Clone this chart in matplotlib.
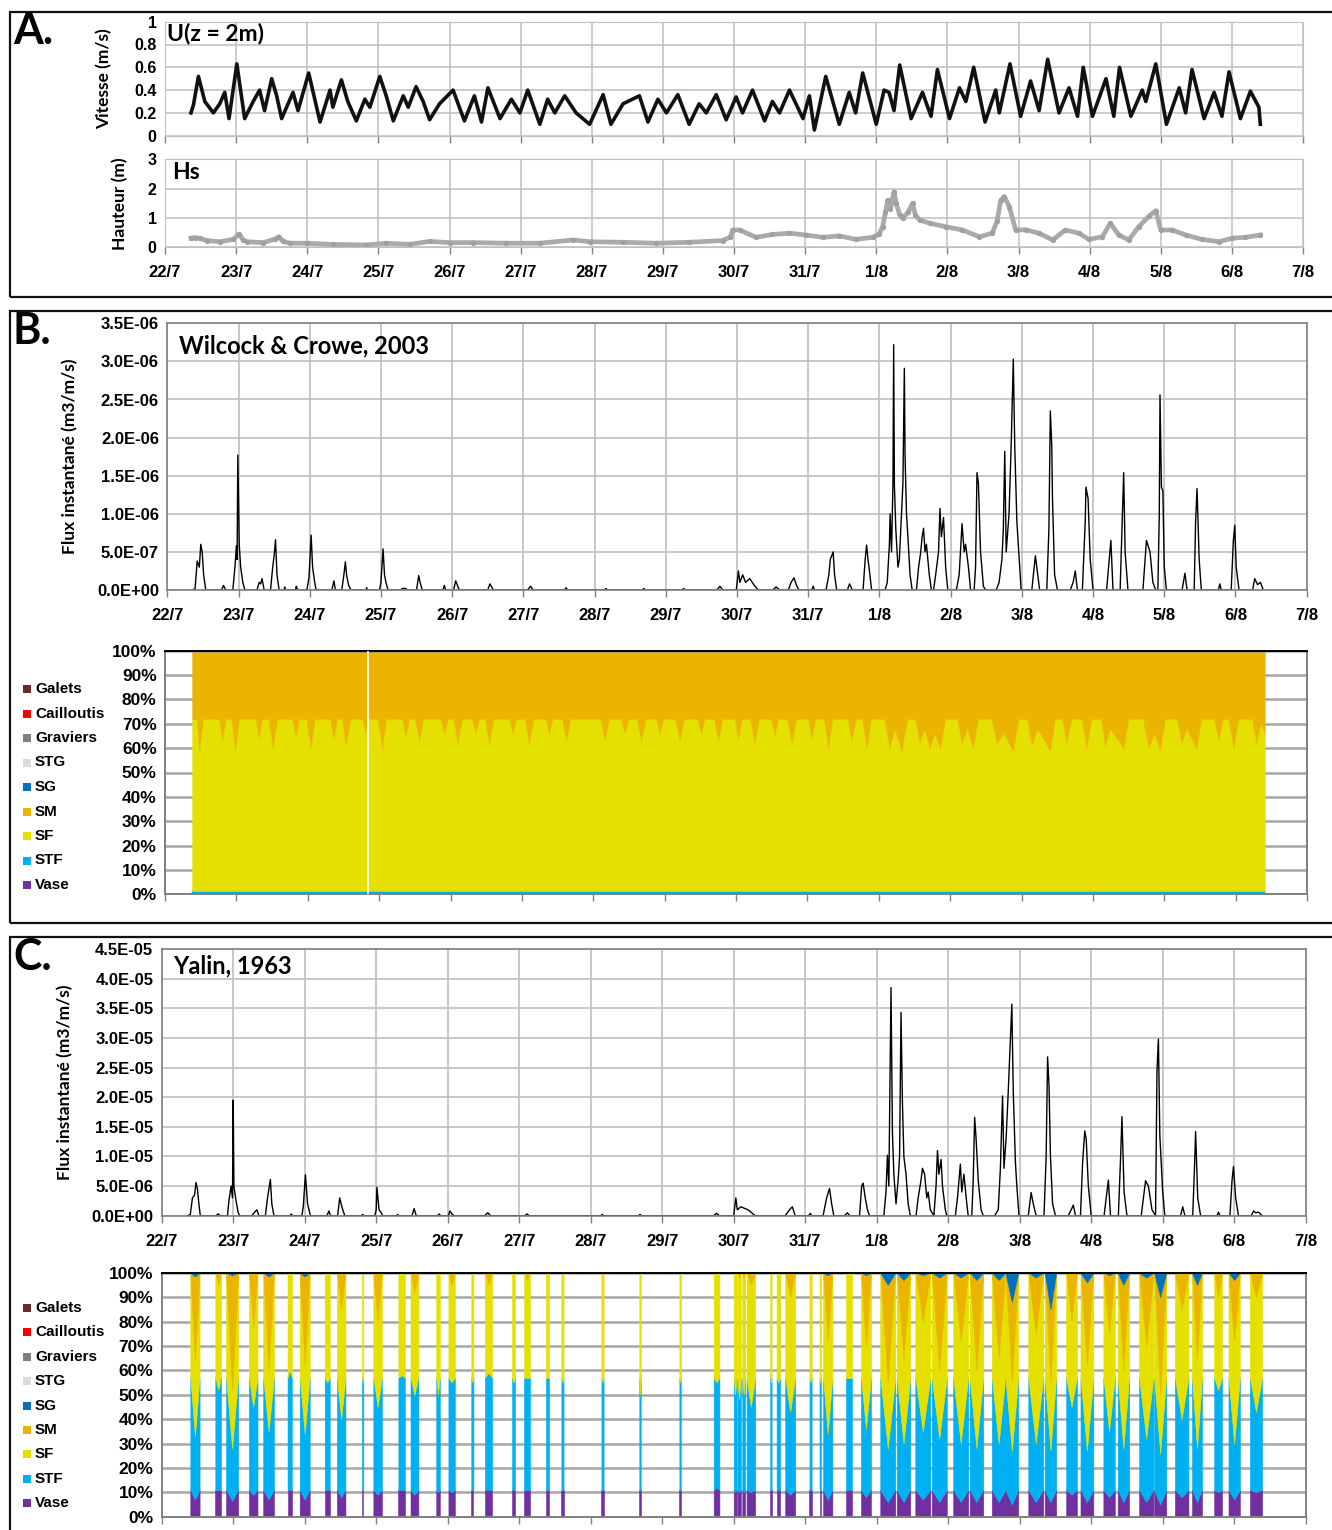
import matplotlib
matplotlib.use("Agg")
import matplotlib.pyplot as plt
from matplotlib.patches import Rectangle
import numpy as np

# ---------------------------------------------------------------- data
# time axis: days counted from 22/7 00:00
day_labels = ["22/7", "23/7", "24/7", "25/7", "26/7", "27/7", "28/7", "29/7",
              "30/7", "31/7", "1/8", "2/8", "3/8", "4/8", "5/8", "6/8", "7/8"]

# current speed at 2 m above bed (m/s)
u_pts = [(0.365, 0.2), (0.40, 0.27), (0.47, 0.52), (0.56, 0.3), (0.68, 0.2), (0.77, 0.28),
         (0.84, 0.38), (0.90, 0.15), (1.01, 0.63), (1.12, 0.15), (1.24, 0.3), (1.33, 0.4),
         (1.40, 0.22), (1.50, 0.5), (1.57, 0.35), (1.64, 0.15), (1.80, 0.38), (1.87, 0.22),
         (2.02, 0.55), (2.18, 0.12), (2.32, 0.4), (2.36, 0.25), (2.48, 0.49), (2.57, 0.3),
         (2.69, 0.13), (2.81, 0.32), (2.88, 0.25), (3.02, 0.52), (3.11, 0.35), (3.21, 0.13),
         (3.35, 0.35), (3.42, 0.25), (3.53, 0.43), (3.63, 0.3), (3.72, 0.14), (3.86, 0.28),
         (4.05, 0.4), (4.21, 0.13), (4.35, 0.35), (4.45, 0.12), (4.54, 0.42), (4.71, 0.15),
         (4.87, 0.32), (4.99, 0.2), (5.10, 0.4), (5.27, 0.1), (5.38, 0.32), (5.48, 0.2),
         (5.62, 0.35), (5.78, 0.2), (5.97, 0.1), (6.16, 0.36), (6.27, 0.1), (6.44, 0.28),
         (6.67, 0.35), (6.79, 0.12), (6.93, 0.32), (7.05, 0.2), (7.21, 0.36), (7.37, 0.1),
         (7.51, 0.28), (7.61, 0.2), (7.75, 0.36), (7.89, 0.14), (8.03, 0.34), (8.12, 0.2),
         (8.26, 0.4), (8.43, 0.13), (8.54, 0.3), (8.64, 0.2), (8.78, 0.4), (8.97, 0.15),
         (9.06, 0.35), (9.13, 0.05), (9.29, 0.52), (9.48, 0.1), (9.62, 0.38), (9.71, 0.2),
         (9.81, 0.55), (10.0, 0.1), (10.11, 0.4), (10.18, 0.38), (10.25, 0.22), (10.33, 0.62),
         (10.49, 0.15), (10.65, 0.38), (10.77, 0.17), (10.86, 0.58), (11.03, 0.15), (11.17, 0.42),
         (11.26, 0.3), (11.37, 0.6), (11.53, 0.12), (11.68, 0.4), (11.73, 0.2), (11.88, 0.63),
         (12.03, 0.17), (12.17, 0.48), (12.29, 0.22), (12.41, 0.67), (12.57, 0.2), (12.71, 0.42),
         (12.83, 0.17), (12.91, 0.6), (13.04, 0.17), (13.23, 0.5), (13.34, 0.17), (13.42, 0.6),
         (13.58, 0.17), (13.74, 0.4), (13.79, 0.3), (13.93, 0.63), (14.08, 0.1), (14.26, 0.42),
         (14.35, 0.2), (14.44, 0.58), (14.61, 0.15), (14.75, 0.38), (14.86, 0.17), (14.96, 0.56),
         (15.12, 0.15), (15.26, 0.39), (15.38, 0.25), (15.40, 0.1)]

# significant wave height (m)
hs_pts = [(0.365, 0.31), (0.42, 0.33), (0.49, 0.3), (0.59, 0.23), (0.77, 0.19), (0.96, 0.27),
          (1.04, 0.45), (1.10, 0.25), (1.15, 0.19), (1.38, 0.16), (1.55, 0.28), (1.60, 0.36),
          (1.66, 0.2), (1.76, 0.14), (1.99, 0.14), (2.36, 0.1), (2.83, 0.08), (3.11, 0.14),
          (3.44, 0.1), (3.72, 0.2), (4.0, 0.16), (4.33, 0.16), (4.8, 0.14), (5.27, 0.14),
          (5.74, 0.25), (5.97, 0.19), (6.44, 0.17), (6.91, 0.14), (7.37, 0.17), (7.84, 0.23),
          (7.95, 0.35), (7.98, 0.59), (8.08, 0.59), (8.31, 0.34), (8.54, 0.44), (8.78, 0.48),
          (9.01, 0.42), (9.25, 0.34), (9.48, 0.39), (9.71, 0.27), (9.95, 0.34), (10.04, 0.45),
          (10.09, 0.7), (10.13, 1.2), (10.16, 1.6), (10.2, 1.3), (10.25, 1.9), (10.28, 1.5),
          (10.33, 1.1), (10.37, 0.99), (10.45, 1.2), (10.51, 1.5), (10.55, 1.1), (10.61, 0.93),
          (10.75, 0.82), (10.98, 0.7), (11.21, 0.59), (11.45, 0.36), (11.63, 0.48), (11.7, 0.9),
          (11.75, 1.6), (11.8, 1.73), (11.87, 1.39), (11.96, 0.59), (12.1, 0.6), (12.29, 0.48),
          (12.48, 0.25), (12.66, 0.59), (12.85, 0.48), (12.99, 0.27), (13.18, 0.36), (13.29, 0.82),
          (13.41, 0.42), (13.55, 0.25), (13.69, 0.7), (13.83, 1.05), (13.93, 1.25), (14.0, 0.59),
          (14.16, 0.59), (14.35, 0.42), (14.58, 0.27), (14.82, 0.19), (15.0, 0.31), (15.19, 0.34),
          (15.4, 0.42)]

# instantaneous bedload flux, Wilcock & Crowe (2003), in 1e-6 m3/m/s
flux_wc = [(0.36, 0), (0.39, 0.02), (0.42, 0.38), (0.45, 0.3), (0.47, 0.6), (0.49, 0.5), (0.51, 0.2), (0.54, 0),
           (0.76, 0), (0.79, 0.06), (0.82, 0),
           (0.92, 0), (0.95, 0.3), (0.97, 0.58), (0.98, 0.4), (0.99, 1.77), (1.01, 0.6), (1.03, 0.3), (1.06, 0.1), (1.09, 0),
           (1.26, 0), (1.29, 0.1), (1.31, 0.08), (1.33, 0.15), (1.36, 0),
           (1.45, 0), (1.48, 0.3), (1.50, 0.45), (1.52, 0.66), (1.54, 0.2), (1.57, 0),
           (1.64, 0), (1.65, 0.04), (1.66, 0), (1.80, 0), (1.81, 0.05), (1.83, 0),
           (1.96, 0), (1.99, 0.17), (2.02, 0.72), (2.04, 0.3), (2.07, 0.1), (2.09, 0),
           (2.31, 0), (2.34, 0.12), (2.36, 0),
           (2.45, 0), (2.48, 0.2), (2.50, 0.37), (2.52, 0.18), (2.55, 0.05), (2.58, 0),
           (2.79, 0), (2.80, 0.03), (2.81, 0),
           (2.98, 0), (3.00, 0.1), (3.03, 0.54), (3.05, 0.2), (3.07, 0.1), (3.10, 0),
           (3.28, 0), (3.30, 0.02), (3.35, 0.02), (3.37, 0),
           (3.50, 0), (3.53, 0.19), (3.55, 0.1), (3.58, 0),
           (3.87, 0), (3.89, 0.06), (3.91, 0),
           (4.02, 0), (4.05, 0.12), (4.08, 0.05), (4.10, 0),
           (4.50, 0), (4.53, 0.08), (4.58, 0), (5.06, 0), (5.10, 0.05), (5.14, 0),
           (5.58, 0), (5.60, 0.03), (5.62, 0), (6.14, 0), (6.16, 0.02), (6.18, 0),
           (6.67, 0), (6.69, 0.02), (6.71, 0), (7.23, 0), (7.25, 0.02), (7.27, 0),
           (7.72, 0), (7.76, 0.05), (7.80, 0),
           (7.99, 0), (8.02, 0.25), (8.04, 0.1), (8.08, 0.2), (8.12, 0.1), (8.18, 0.15), (8.25, 0.05), (8.30, 0),
           (8.50, 0), (8.55, 0.04), (8.60, 0),
           (8.72, 0), (8.76, 0.1), (8.80, 0.16), (8.84, 0.05), (8.87, 0),
           (9.05, 0), (9.07, 0.05), (9.09, 0),
           (9.25, 0), (9.29, 0.2), (9.31, 0.4), (9.35, 0.5), (9.37, 0.2), (9.40, 0),
           (9.55, 0), (9.58, 0.08), (9.62, 0),
           (9.77, 0), (9.80, 0.4), (9.82, 0.59), (9.84, 0.4), (9.86, 0.25), (9.89, 0),
           (10.08, 0), (10.11, 0.1), (10.14, 0.6), (10.15, 1.0), (10.17, 0.5), (10.19, 1.4), (10.20, 3.22),
           (10.21, 1.38), (10.23, 0.8), (10.26, 0.3), (10.28, 0.4), (10.31, 1.0), (10.33, 1.4), (10.35, 2.91),
           (10.36, 1.76), (10.38, 1.0), (10.40, 0.7), (10.43, 0.2), (10.46, 0),
           (10.52, 0), (10.55, 0.3), (10.58, 0.5), (10.60, 0.7), (10.62, 0.81), (10.64, 0.5), (10.66, 0.6), (10.70, 0.2), (10.73, 0),
           (10.76, 0), (10.79, 0.2), (10.83, 0.5), (10.85, 1.07), (10.87, 0.7), (10.90, 0.95), (10.93, 0.3), (10.96, 0),
           (11.08, 0), (11.12, 0.2), (11.16, 0.87), (11.19, 0.5), (11.21, 0.6), (11.25, 0.3), (11.28, 0),
           (11.33, 0), (11.35, 0.3), (11.37, 1.54), (11.39, 1.4), (11.42, 0.5), (11.46, 0.05), (11.49, 0),
           (11.64, 0), (11.68, 0.1), (11.72, 0.4), (11.74, 0.8), (11.76, 1.82), (11.78, 0.5), (11.82, 1.0),
           (11.85, 1.9), (11.88, 3.03), (11.90, 1.9), (11.93, 0.9), (11.96, 0.45), (11.99, 0),
           (12.14, 0), (12.19, 0.45), (12.21, 0.3), (12.25, 0),
           (12.35, 0), (12.38, 0.8), (12.40, 2.35), (12.42, 1.9), (12.43, 1.2), (12.46, 0.2), (12.50, 0),
           (12.68, 0), (12.72, 0.1), (12.75, 0.25), (12.78, 0),
           (12.85, 0), (12.89, 0.9), (12.90, 1.35), (12.93, 1.2), (12.96, 0.4), (13.00, 0),
           (13.19, 0), (13.25, 0.65), (13.28, 0),
           (13.38, 0), (13.41, 0.95), (13.43, 1.54), (13.45, 0.5), (13.49, 0),
           (13.70, 0), (13.75, 0.65), (13.80, 0.5), (13.84, 0.1), (13.88, 0),
           (13.91, 0), (13.93, 1.0), (13.94, 2.56), (13.96, 1.35), (13.98, 1.3), (14.00, 0.3), (14.03, 0),
           (14.25, 0), (14.29, 0.22), (14.32, 0),
           (14.42, 0), (14.44, 0.9), (14.46, 1.33), (14.49, 0.4), (14.52, 0),
           (14.76, 0), (14.78, 0.08), (14.80, 0),
           (14.94, 0), (14.97, 0.65), (14.99, 0.85), (15.01, 0.3), (15.05, 0),
           (15.24, 0), (15.27, 0.15), (15.31, 0.07), (15.35, 0.1), (15.39, 0)]

# instantaneous bedload flux, Yalin (1963), in 1e-5 m3/m/s
flux_ya = [(0.36, 0), (0.40, 0.02), (0.43, 0.3), (0.46, 0.35), (0.48, 0.56), (0.50, 0.45), (0.52, 0.2), (0.54, 0),
           (0.76, 0), (0.79, 0.03), (0.82, 0),
           (0.92, 0), (0.94, 0.25), (0.97, 0.5), (0.99, 0.3), (1.00, 1.95), (1.01, 0.5), (1.04, 0.25), (1.07, 0.05), (1.09, 0),
           (1.26, 0), (1.30, 0.06), (1.33, 0.1), (1.36, 0),
           (1.45, 0), (1.48, 0.3), (1.50, 0.45), (1.52, 0.61), (1.54, 0.2), (1.57, 0),
           (1.80, 0), (1.81, 0.03), (1.83, 0),
           (1.96, 0), (1.98, 0.15), (2.01, 0.69), (2.04, 0.2), (2.08, 0),
           (2.31, 0), (2.34, 0.08), (2.36, 0),
           (2.46, 0), (2.49, 0.3), (2.52, 0.15), (2.56, 0),
           (2.79, 0), (2.81, 0.02), (2.83, 0),
           (2.98, 0), (3.00, 0.1), (3.01, 0.48), (3.04, 0.1), (3.07, 0.05), (3.09, 0),
           (3.28, 0), (3.30, 0.02), (3.32, 0),
           (3.50, 0), (3.53, 0.12), (3.56, 0),
           (3.86, 0), (3.88, 0.03), (3.90, 0),
           (4.01, 0), (4.03, 0.08), (4.06, 0.03), (4.09, 0),
           (4.52, 0), (4.56, 0.05), (4.60, 0), (5.08, 0), (5.11, 0.03), (5.14, 0),
           (6.14, 0), (6.16, 0.02), (6.18, 0), (6.67, 0), (6.69, 0.02), (6.71, 0),
           (7.72, 0), (7.76, 0.04), (7.80, 0),
           (8.00, 0), (8.03, 0.3), (8.05, 0.1), (8.10, 0.15), (8.20, 0.1), (8.30, 0),
           (8.72, 0), (8.78, 0.1), (8.82, 0.15), (8.86, 0),
           (9.05, 0), (9.07, 0.04), (9.09, 0),
           (9.25, 0), (9.30, 0.3), (9.34, 0.46), (9.37, 0.2), (9.40, 0),
           (9.55, 0), (9.59, 0.05), (9.62, 0),
           (9.76, 0), (9.79, 0.5), (9.81, 0.55), (9.84, 0.3), (9.87, 0.1), (9.90, 0),
           (10.10, 0), (10.13, 0.4), (10.15, 1.02), (10.17, 0.5), (10.20, 3.85), (10.22, 1.4), (10.24, 0.7),
           (10.27, 0.2), (10.30, 0.6), (10.32, 1.0), (10.34, 3.43), (10.36, 1.9), (10.38, 1.0), (10.41, 0.7),
           (10.44, 0.2), (10.47, 0),
           (10.55, 0), (10.58, 0.3), (10.62, 0.6), (10.64, 0.8), (10.67, 0.7), (10.70, 0.3), (10.72, 0.4), (10.75, 0.1),
           (10.80, 0), (10.83, 0.5), (10.85, 1.1), (10.87, 0.7), (10.90, 0.95), (10.92, 0.5), (10.96, 0.1), (10.98, 0),
           (11.10, 0), (11.13, 0.3), (11.17, 0.87), (11.19, 0.4), (11.22, 0.7), (11.26, 0.2), (11.28, 0),
           (11.33, 0), (11.35, 0.6), (11.37, 1.66), (11.39, 1.3), (11.42, 0.6), (11.46, 0.1), (11.49, 0),
           (11.65, 0), (11.70, 0.1), (11.73, 0.8), (11.76, 2.02), (11.78, 0.8), (11.81, 1.3), (11.84, 2.1),
           (11.89, 3.57), (11.91, 2.1), (11.94, 0.9), (11.96, 0.5), (11.99, 0),
           (12.12, 0), (12.16, 0.39), (12.19, 0.2), (12.23, 0),
           (12.34, 0), (12.37, 1.0), (12.39, 2.68), (12.41, 2.2), (12.43, 1.0), (12.46, 0.2), (12.50, 0),
           (12.68, 0), (12.72, 0.1), (12.75, 0.18), (12.78, 0),
           (12.85, 0), (12.88, 0.9), (12.91, 1.43), (12.93, 1.3), (12.96, 0.5), (13.00, 0),
           (13.18, 0), (13.24, 0.6), (13.27, 0),
           (13.38, 0), (13.41, 0.95), (13.43, 1.67), (13.46, 0.4), (13.50, 0),
           (13.70, 0), (13.74, 0.4), (13.76, 0.59), (13.80, 0.5), (13.85, 0.1),
           (13.90, 0), (13.92, 2.45), (13.94, 2.98), (13.96, 1.35), (14.00, 0.4), (14.03, 0),
           (14.25, 0), (14.28, 0.15), (14.31, 0),
           (14.42, 0), (14.45, 1.0), (14.46, 1.42), (14.49, 0.3), (14.53, 0),
           (14.76, 0), (14.78, 0.06), (14.80, 0),
           (14.94, 0), (14.97, 0.6), (14.99, 0.83), (15.02, 0.3), (15.06, 0),
           (15.24, 0), (15.27, 0.08), (15.30, 0.05), (15.34, 0.06), (15.39, 0)]

# size classes (legend order, top to bottom)
classes = ["Galets", "Cailloutis", "Graviers", "STG", "SG", "SM", "SF", "STF", "Vase"]
class_colors = ["#6B2C2C", "#FF0000", "#7F7F7F", "#D9D9D9", "#0070C0",
                "#EBB400", "#E5E000", "#00B0F0", "#7030A0"]

# Wilcock & Crowe composition: top of the SF layer (cumulative %, from the bed up)
wc_sf_top = [(0.38, 72), (0.44, 72), (0.48, 59), (0.53, 72), (0.76, 72), (0.80, 63), (0.85, 72),
             (0.93, 72), (0.98, 59), (1.04, 72), (1.27, 72), (1.31, 64), (1.36, 72), (1.45, 72),
             (1.51, 60), (1.57, 72), (1.78, 72), (1.83, 65), (1.88, 72), (1.98, 72), (2.04, 60),
             (2.10, 72), (2.31, 72), (2.36, 64), (2.41, 72), (2.48, 72), (2.53, 61), (2.60, 72),
             (2.76, 72), (2.81, 66), (2.86, 72), (2.98, 72), (3.04, 60), (3.10, 72), (3.32, 72),
             (3.37, 65), (3.42, 72), (3.50, 72), (3.56, 63), (3.62, 72), (3.86, 72), (3.91, 66),
             (3.96, 72), (4.04, 72), (4.10, 62), (4.16, 72), (4.30, 72), (4.35, 66), (4.40, 72),
             (4.48, 72), (4.54, 62), (4.60, 72), (4.82, 72), (4.87, 66), (4.92, 72), (5.04, 72),
             (5.10, 62), (5.16, 72), (5.33, 72), (5.38, 66), (5.43, 72), (5.56, 72), (5.62, 63),
             (5.68, 72), (6.10, 72), (6.16, 63), (6.22, 72), (6.39, 72), (6.44, 66), (6.49, 72),
             (6.61, 72), (6.67, 63), (6.73, 72), (6.88, 72), (6.93, 66), (6.98, 72), (7.15, 72),
             (7.21, 63), (7.27, 72), (7.46, 72), (7.51, 66), (7.56, 72), (7.69, 72), (7.75, 63),
             (7.81, 72), (7.98, 72), (8.03, 64), (8.08, 72), (8.20, 72), (8.26, 62), (8.32, 72),
             (8.49, 72), (8.54, 65), (8.59, 72), (8.72, 72), (8.78, 62), (8.84, 72), (9.01, 72),
             (9.06, 64), (9.11, 72), (9.23, 72), (9.29, 60), (9.35, 72), (9.56, 72), (9.62, 63),
             (9.68, 72), (9.77, 72), (9.83, 60), (9.89, 72), (10.08, 72), (10.15, 60), (10.22, 68),
             (10.32, 59), (10.40, 72), (10.51, 72), (10.57, 62), (10.64, 68), (10.71, 60), (10.78, 66),
             (10.86, 60), (10.93, 72), (11.10, 72), (11.16, 62), (11.24, 68), (11.32, 60), (11.39, 72),
             (11.58, 72), (11.65, 62), (11.75, 66), (11.88, 59), (11.96, 72), (12.08, 72), (12.14, 61),
             (12.22, 68), (12.40, 59), (12.47, 72), (12.57, 72), (12.63, 62), (12.70, 72), (12.84, 72),
             (12.91, 60), (12.98, 72), (13.11, 72), (13.17, 61), (13.24, 68), (13.43, 60), (13.50, 72),
             (13.70, 72), (13.78, 60), (13.86, 66), (13.94, 59), (14.01, 72), (14.18, 72), (14.24, 62),
             (14.31, 68), (14.45, 60), (14.52, 72), (14.70, 72), (14.76, 63), (14.82, 72), (14.90, 72),
             (14.97, 60), (15.04, 72), (15.23, 72), (15.29, 62), (15.35, 70), (15.41, 66)]
wc_vase_top = 0.3    # %
wc_stf_top = 1.3     # %
wc_sm_top = 99.4     # %
wc_gaps = [2.85]     # missing record

# Yalin composition: one entry per transport event
# (start, end, Vase top, STF top, SF top, SM top) at the event centre, cumulative %
ya_events = [(0.40, 0.53, 7, 33, 64, 98.5), (0.75, 0.83, 11, 52, 95, 100), (0.90, 1.07, 6.5, 28, 52, 99),
             (1.22, 1.34, 9, 45, 78, 100), (1.42, 1.57, 7, 35, 60, 98.5), (1.76, 1.82, 11, 60, 100, 100),
             (1.93, 2.07, 7, 34, 62, 98.5), (2.28, 2.35, 11, 55, 100, 100), (2.45, 2.57, 8, 40, 85, 100),
             (2.80, 2.82, 11, 55, 100, 100), (2.96, 3.08, 9, 45, 80, 100), (3.31, 3.40, 11, 58, 100, 100),
             (3.48, 3.59, 9, 50, 92, 100), (3.84, 3.89, 10, 50, 100, 100), (4.01, 4.10, 10, 55, 95, 100),
             (4.33, 4.36, 11, 55, 100, 100), (4.52, 4.62, 11, 59, 95, 100), (4.90, 4.94, 11, 55, 100, 100),
             (5.07, 5.15, 11, 57, 97, 100), (5.37, 5.41, 11, 57, 100, 100), (5.59, 5.62, 11, 55, 100, 100),
             (6.15, 6.18, 11, 55, 100, 100), (6.68, 6.70, 11, 50, 100, 100), (7.24, 7.26, 11, 55, 100, 100),
             (7.72, 7.80, 12, 55, 100, 100), (8.00, 8.04, 10, 50, 100, 100), (8.05, 8.10, 10, 48, 98, 100),
             (8.12, 8.16, 10, 50, 98, 100), (8.18, 8.30, 10, 45, 95, 100), (8.51, 8.53, 11, 55, 100, 100),
             (8.60, 8.65, 11, 55, 100, 100), (8.72, 8.86, 9, 43, 90, 100), (9.06, 9.09, 11, 55, 100, 100),
             (9.20, 9.22, 11, 55, 100, 100), (9.25, 9.38, 7, 34, 72, 99), (9.57, 9.66, 11, 57, 100, 100),
             (9.78, 9.92, 8, 36, 70, 99), (10.05, 10.26, 6, 28, 55, 95), (10.28, 10.47, 6, 30, 65, 97),
             (10.54, 10.75, 7, 35, 80, 99), (10.77, 10.98, 6, 32, 60, 98), (11.07, 11.28, 6, 30, 72, 98),
             (11.30, 11.49, 6, 28, 60, 97), (11.61, 11.80, 6, 30, 65, 97), (11.80, 11.98, 5, 27, 55, 88),
             (12.12, 12.33, 6, 30, 75, 98), (12.35, 12.51, 6, 27, 55, 85), (12.65, 12.80, 9, 45, 80, 100),
             (12.85, 13.03, 6, 27, 62, 96), (13.17, 13.33, 8, 35, 75, 99), (13.37, 13.53, 6, 28, 60, 95),
             (13.67, 13.87, 6, 32, 70, 98), (13.88, 14.05, 5, 26, 50, 90), (14.17, 14.36, 8, 40, 85, 100),
             (14.41, 14.55, 6, 28, 65, 95), (14.72, 14.83, 10, 52, 90, 100), (14.92, 15.08, 7, 30, 72, 97),
             (15.22, 15.39, 10, 43, 90, 100)]
# composition at the start / end of each event (Vase, STF, SF, SM tops, %)
ya_edge = [11, 57, 100, 100]

# ---------------------------------------------------------------- style
W, H = 1332, 1530
TICK_FONT = "Liberation Sans"
TITLE_FONT = "Lato"
GRID = "#BFBFBF"
COL = dict(zip(classes, class_colors))

fig = plt.figure(figsize=(W / 100, H / 100), dpi=100)


def place(x0, x1, ytop, ybot):
    return fig.add_axes([x0 / W, 1 - ybot / H, (x1 - x0) / W, (ybot - ytop) / H])


def time_axis(ax, labels=True, size=12):
    ax.set_xlim(0, 16)
    ax.set_xticks(range(17))
    if labels:
        ax.set_xticklabels(day_labels, fontfamily=TICK_FONT, fontweight="bold", fontsize=size)
    else:
        ax.set_xticklabels([])
    ax.tick_params(axis="x", direction="out", length=5, width=1, color="#808080", pad=8)
    ax.tick_params(axis="y", length=0, pad=6)


def style_ylabels(ax, size):
    for t in ax.get_yticklabels():
        t.set_fontfamily(TICK_FONT)
        t.set_fontweight("bold")
        t.set_fontsize(size)


def frame(top, bottom):
    fig.add_artist(Rectangle((10 / W, 1 - bottom / H), 1.5, (bottom - top) / H,
                             transform=fig.transFigure, fill=False, lw=1.6, ec="#111111"))


def ylabel_at(ax, text, x_px, x0, x1, size):
    # x_px is the right-hand edge of the rotated label
    ax.set_ylabel(text, fontfamily=TITLE_FONT, fontweight="bold", fontsize=size)
    ax.yaxis.set_label_coords((x_px - x0) / (x1 - x0), 0.5)


# panel frames and letters
frame(12, 297)
frame(311, 923)
frame(937, 1560)
for letter, y in (("A.", 31), ("B.", 331), ("C.", 957)):
    fig.text(13 / W, 1 - y / H, letter, fontfamily=TITLE_FONT, fontweight="bold",
             fontsize=31, va="center", ha="left")

# ---------------------------------------------------------------- A: speed
axu = place(165, 1303, 21.7, 135.7)
t, v = zip(*u_pts)
axu.plot(t, v, color="#111111", lw=2.6, solid_joinstyle="round")
axu.set_ylim(0, 1)
axu.set_yticks([0, 0.2, 0.4, 0.6, 0.8, 1])
axu.set_yticklabels(["0", "0.2", "0.4", "0.6", "0.8", "1"])
time_axis(axu, labels=False)
style_ylabels(axu, 11.5)
axu.grid(True, color=GRID, lw=1.1)
for s in axu.spines.values():
    s.set_color(GRID)
axu.text(0.03, 0.9, "U(z = 2m)", fontfamily=TITLE_FONT, fontweight="bold", fontsize=16.5, va="center")
ylabel_at(axu, "Vitesse (m/s)", 112, 165, 1303, 12.5)

# ---------------------------------------------------------------- A: wave height
axh = place(165, 1303, 159.3, 247.3)
t, v = zip(*hs_pts)
axh.plot(t, v, color="#AAAAAA", lw=3.4, marker="o", ms=2.8, mec="#A0A0A0", mfc="#A0A0A0")
axh.set_ylim(0, 3)
axh.set_yticks([0, 1, 2, 3])
time_axis(axh, labels=True, size=12)
style_ylabels(axh, 11.5)
axh.grid(True, color=GRID, lw=1.1)
for s in axh.spines.values():
    s.set_color(GRID)
axh.text(0.1, 2.55, "Hs", fontfamily=TITLE_FONT, fontweight="bold", fontsize=16.5, va="center")
ylabel_at(axh, "Hauteur (m)", 128, 165, 1303, 12.5)


# ---------------------------------------------------------------- flux panels
def flux_panel(x0, x1, ytop, ybot, pts, scale, ymax, step, title, title_y, ylab_x):
    ax = place(x0, x1, ytop, ybot)
    t, v = zip(*pts)
    ax.plot(t, np.array(v) * scale, color="black", lw=1.0)
    ax.set_ylim(0, ymax)
    ticks = np.arange(0, ymax + step / 2, step)
    ax.set_yticks(ticks)
    ax.set_yticklabels(["%.1E" % k if k > 0 else "0.0E+00" for k in ticks])
    time_axis(ax, labels=True, size=12)
    style_ylabels(ax, 12)
    ax.grid(True, color=GRID, lw=1.2)
    for s in ax.spines.values():
        s.set_color("#808080")
        s.set_linewidth(1.2)
    ax.text(0.01, title_y, title, transform=ax.transAxes, fontfamily=TITLE_FONT,
            fontweight="bold", fontsize=17, va="center")
    ylabel_at(ax, "Flux instantané (m3/m/s)", ylab_x, x0, x1, 12.5)
    return ax


flux_panel(167.3, 1306.7, 323.3, 590, flux_wc, 1e-6, 3.5e-6, 0.5e-6,
           "Wilcock & Crowe, 2003", 0.915, 78)
flux_panel(161.7, 1305.7, 949, 1215.7, flux_ya, 1e-5, 4.5e-5, 0.5e-5,
           "Yalin, 1963", 0.935, 73)


# ---------------------------------------------------------------- composition panels
def comp_axes(x0, x1, ytop, ybot):
    ax = place(x0, x1, ytop, ybot)
    ax.set_ylim(0, 100)
    ax.set_yticks(range(0, 101, 10))
    ax.set_yticklabels(["%d%%" % k for k in range(0, 101, 10)])
    time_axis(ax, labels=False)
    style_ylabels(ax, 12.5)
    ax.yaxis.grid(True, color="#A6A6A6", lw=1.8)
    ax.set_axisbelow(True)
    for s in ax.spines.values():
        s.set_color("#808080")
        s.set_linewidth(1.4)
    ax.spines["top"].set_color("black")
    return ax


def legend_column(y_first, dy):
    for i, (name, col) in enumerate(zip(classes, class_colors)):
        y = y_first + i * dy
        fig.add_artist(Rectangle((23 / W, 1 - (y + 4) / H), 8 / W, 8 / H,
                                 transform=fig.transFigure, color=col, lw=0))
        fig.text(35 / W, 1 - y / H, name, fontfamily=TICK_FONT, fontweight="bold",
                 fontsize=11, va="center", ha="left")


# Wilcock & Crowe composition
axb = comp_axes(165, 1307, 650.7, 894.3)
t, sf = zip(*wc_sf_top)
t = np.array(t)
sf = np.array(sf, float)
layers = [np.zeros_like(sf), np.full_like(sf, wc_vase_top), np.full_like(sf, wc_stf_top),
          sf, np.full_like(sf, wc_sm_top), np.full_like(sf, 100.0)]
for k, name in enumerate(["Vase", "STF", "SF", "SM", "SG"]):
    axb.fill_between(t, layers[k], layers[k + 1], color=COL[name], lw=0.3, ec=COL[name], zorder=2)
for g in wc_gaps:
    axb.axvline(g, color="white", lw=1.3, zorder=3)
legend_column(689, 24.5)

# Yalin composition
axc = comp_axes(161.7, 1305.7, 1272.7, 1516.7)
for s, e, vz, stf, sfv, sm in ya_events:
    xs = [s, (s + e) / 2, e]
    bounds = [[0, 0, 0],
              [ya_edge[0], vz, ya_edge[0]],
              [ya_edge[1], stf, ya_edge[1]],
              [ya_edge[2], sfv, ya_edge[2]],
              [ya_edge[3], sm, ya_edge[3]],
              [100, 100, 100]]
    for k, name in enumerate(["Vase", "STF", "SF", "SM", "SG"]):
        axc.fill_between(xs, bounds[k], bounds[k + 1], color=COL[name], lw=0.4,
                         ec=COL[name], zorder=2)
legend_column(1308, 24.4)

fig.savefig("out.png", dpi=100, facecolor="white")
